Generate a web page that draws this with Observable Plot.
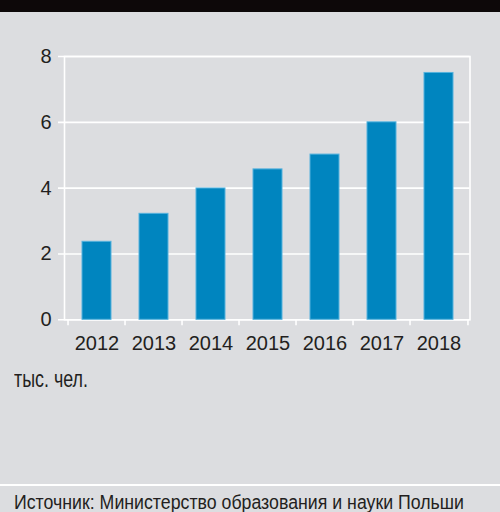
<!DOCTYPE html>
<html><head><meta charset="utf-8">
<script src="https://cdn.jsdelivr.net/npm/d3@7"></script>
<script src="https://cdn.jsdelivr.net/npm/@observablehq/plot@0.6"></script>
<style>
html,body{margin:0;padding:0;}
body{width:500px;height:512px;background:#dcdde0;position:relative;overflow:hidden;font-family:"Liberation Sans",Arial,sans-serif;color:#231f20;}
#band{position:absolute;left:0;top:0;width:500px;height:12px;background:#0d0809;z-index:2}
#chart{position:absolute;left:0;top:0}
#unit{position:absolute;left:14px;top:365px;font-size:23px;line-height:28px;white-space:nowrap;transform-origin:0 50%}
#rule{position:absolute;left:0;top:484px;width:500px;height:2px;background:#fff}
#source{position:absolute;left:14px;top:489px;font-size:20px;line-height:26px;white-space:nowrap;transform-origin:0 50%}
</style></head><body>
<div id="band"></div>
<div id="chart"></div>
<div id="unit">тыс. чел.</div>
<div id="rule"></div>
<div id="source">Источник: Министерство образования и науки Польши</div>
<script>
const years = ["2012","2013","2014","2015","2016","2017","2018"];
const values = [2.37, 3.22, 3.99, 4.57, 5.02, 6.0, 7.5];
const yTicks = [0, 2, 4, 6, 8];
const data = years.map((year, i) => ({year, value: values[i]}));
const W = 500, H = 360, mL = 64, mR = 30.5;
const step = (W - mL - mR) / years.length;
const font = '"Liberation Sans",Arial,sans-serif';
const plot = Plot.plot({
  width: W, height: H,
  marginTop: 56, marginBottom: 40.7, marginLeft: mL, marginRight: mR,
  style: {background: "transparent", fontFamily: font, color: "#231f20", overflow: "visible"},
  x: {domain: years, paddingInner: 0.5, paddingOuter: 0.25, label: null, axis: null},
  y: {domain: [0, 8], label: null, axis: null},
  marks: [
    Plot.ruleY(yTicks, {stroke: "white", strokeWidth: 1.6, insetLeft: -6}),
    Plot.frame({stroke: "white", strokeWidth: 1.6}),
    Plot.ruleX(years, {x: d => d, dx: -step / 2, y1: 0, y2: 0, insetBottom: -6, stroke: "white", strokeWidth: 1.6}),
    Plot.ruleX(years.slice(-1), {x: d => d, dx: step / 2, y1: 0, y2: 0, insetBottom: -6, stroke: "white", strokeWidth: 1.6}),
    Plot.barY(data, {x: "year", y: "value", fill: "#0085bf", stroke: "#55b2dd", strokeWidth: 1}),
    Plot.axisY(yTicks, {tickSize: 0, tickPadding: 13, fontSize: 20, fill: "#231f20"}),
    Plot.axisX(years, {tickSize: 0, tickPadding: 16, fontSize: 20, fill: "#231f20"})
  ]
});
document.getElementById("chart").appendChild(plot);
function fitWidth(id, target) {
  const el = document.getElementById(id);
  const w = el.getBoundingClientRect().width;
  if (w > 0) el.style.transform = `scaleX(${target / w})`;
}
fitWidth("unit", 74);
fitWidth("source", 450);
</script>
</body></html>
